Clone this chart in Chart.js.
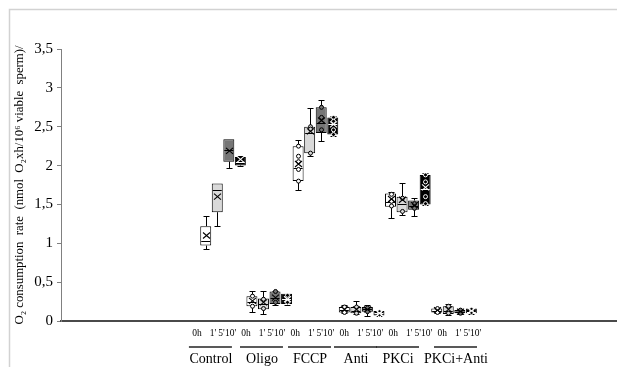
<!DOCTYPE html>
<html>
<head>
<meta charset="utf-8">
<script src="https://cdn.jsdelivr.net/npm/chart.js@4/dist/chart.umd.min.js"></script>
<style>
  html, body { margin: 0; padding: 0; background: #fff; }
  canvas { display: block; }
</style>
</head>
<body>
<canvas id="c" width="617" height="367"></canvas>
<script>
// Treatments and sampling times (each treatment has one box per time)
const groups = ['Control', 'Oligo', 'FCCP', 'Anti', 'PKCi', 'PKCi+Anti'];
const times = ['0h', "1'", "5'", "10'"];
const timeColors = ['#ffffff', '#d9d9d9', '#767676', '#000000'];

// Box statistics, treatment by treatment, 0h / 1' / 5' / 10' within each
const whiskerLow  = [0.93, 1.22, 1.97, 1.99,  0.11, 0.09, 0.21, 0.21,  1.69, 2.12, 2.31, 2.38,  0.10, 0.09, 0.07, 0.06,  1.33, 1.37, 1.35, 1.49,  0.10, 0.08, 0.09, 0.09];
const q1          = [0.97, 1.40, 2.05, 2.00,  0.19, 0.15, 0.22, 0.22,  1.80, 2.16, 2.42, 2.40,  0.11, 0.10, 0.12, 0.07,  1.47, 1.40, 1.43, 1.50,  0.11, 0.09, 0.10, 0.10];
const median      = [1.03, 1.69, 2.20, 2.05,  0.25, 0.22, 0.30, 0.28,  1.97, 2.42, 2.55, 2.53,  0.14, 0.13, 0.15, 0.10,  1.53, 1.50, 1.48, 1.70,  0.13, 0.13, 0.12, 0.12];
const q3          = [1.22, 1.77, 2.34, 2.11,  0.32, 0.29, 0.38, 0.35,  2.25, 2.50, 2.75, 2.62,  0.18, 0.18, 0.18, 0.13,  1.64, 1.60, 1.55, 1.88,  0.16, 0.19, 0.14, 0.16];
const whiskerHigh = [1.35, 1.77, 2.34, 2.12,  0.38, 0.38, 0.39, 0.35,  2.33, 2.74, 2.85, 2.64,  0.20, 0.26, 0.21, 0.13,  1.66, 1.78, 1.58, 1.91,  0.17, 0.22, 0.15, 0.16];
const mean        = [1.10, 1.60, 2.19, 2.08,  0.26, 0.24, 0.30, 0.28,  2.02, 2.44, 2.58, 2.53,  0.15, 0.15, 0.15, 0.10,  1.57, 1.56, 1.49, 1.72,  0.14, 0.15, 0.12, 0.13];
// Individual measurements shown inside the boxes
const innerPoints = [
  [], [], [], [],
  [0.32, 0.19], [0.16, 0.28], [0.38, 0.24], [0.33, 0.24],
  [2.25, 2.12, 2.05, 1.95, 1.80], [2.50, 2.47, 2.16], [2.75, 2.62, 2.46], [2.62, 2.57, 2.46, 2.40],
  [0.18, 0.11], [0.18, 0.10], [0.17, 0.12], [0.12, 0.08],
  [1.63, 1.54, 1.48], [1.58, 1.41], [1.51, 1.45], [1.88, 1.79, 1.60, 1.51],
  [0.16, 0.11], [0.19, 0.10], [0.14, 0.10], [0.15, 0.11]
];

const yTicks = [0, 0.5, 1, 1.5, 2, 2.5, 3, 3.5];
const yTitle = 'O\u2082 consumption  rate  (nmol  O\u2082xh/10\u2076 viable  sperm)/';

const boxData = q1.map((v, i) => ({ x: i, y: [v, q3[i]] }));

const serif = '"Liberation Serif", "Times New Roman", serif';

function crisp(v) { return Math.round(v) + 0.5; }

const boxPlot = {
  id: 'boxPlot',
  beforeDraw(chart) {
    const { ctx, width, height } = chart;
    ctx.save();
    ctx.fillStyle = '#ffffff';
    ctx.fillRect(0, 0, width, height);
    // light outer frame
    ctx.strokeStyle = '#d2d2d2';
    ctx.lineWidth = 1.5;
    ctx.beginPath();
    ctx.moveTo(9.5, height);
    ctx.lineTo(9.5, 9.5);
    ctx.lineTo(width, 9.5);
    ctx.stroke();
    ctx.restore();
  },
  afterDatasetsDraw(chart) {
    const { ctx } = chart;
    const ys = chart.scales.y;
    const meta = chart.getDatasetMeta(0);
    ctx.save();
    meta.data.forEach((bar, i) => {
      const t = i % times.length;
      const ink = t === 3 ? '#ffffff' : '#000000';
      const cx = crisp(bar.x);
      const half = bar.width / 2;
      const py = v => ys.getPixelForValue(v);

      // whiskers with end caps
      ctx.strokeStyle = '#000';
      ctx.lineWidth = 1;
      const whisk = (from, to) => {
        const a = py(from), b = crisp(py(to));
        ctx.beginPath();
        ctx.moveTo(cx, a);
        ctx.lineTo(cx, b);
        ctx.moveTo(cx - 3, b);
        ctx.lineTo(cx + 3, b);
        ctx.stroke();
      };
      if (whiskerHigh[i] > q3[i] + 0.005) whisk(q3[i], whiskerHigh[i]);
      if (whiskerLow[i] < q1[i] - 0.005) whisk(q1[i], whiskerLow[i]);

      // median
      ctx.strokeStyle = ink;
      const ym = crisp(py(median[i]));
      ctx.beginPath();
      ctx.moveTo(bar.x - half + 1, ym);
      ctx.lineTo(bar.x + half - 1, ym);
      ctx.stroke();

      // individual points
      innerPoints[i].forEach(v => {
        ctx.beginPath();
        ctx.arc(cx, py(v), 2, 0, Math.PI * 2);
        ctx.fillStyle = timeColors[t];
        ctx.fill();
        ctx.strokeStyle = ink;
        ctx.stroke();
      });

      // mean marker
      const yMean = py(mean[i]);
      const sx = 3.5, sy = 3;
      ctx.strokeStyle = ink;
      ctx.lineWidth = 1.1;
      ctx.beginPath();
      ctx.moveTo(cx - sx, yMean - sy);
      ctx.lineTo(cx + sx, yMean + sy);
      ctx.moveTo(cx + sx, yMean - sy);
      ctx.lineTo(cx - sx, yMean + sy);
      ctx.stroke();
    });
    ctx.restore();
  },
  afterDraw(chart) {
    const { ctx } = chart;
    const xs = chart.scales.x;
    // time captions sit on an even pitch; treatment names are placed individually
    const timeOffsets = [-15, 1, 9.5, 18.5];
    const nameAnchors = [0.45, 4.87, 9.03, 13.01, 16.65, 21.67];
    ctx.save();
    ctx.fillStyle = '#000';
    ctx.textBaseline = 'middle';
    ctx.textAlign = 'center';
    groups.forEach((g, gi) => {
      const cx = xs.getPixelForValue(gi * 4.245 + 0.55);
      ctx.font = '9.5px ' + serif;
      times.forEach((t, ti) => {
        ctx.fillText(t, cx + timeOffsets[ti], 333);
      });
      const nx = xs.getPixelForValue(nameAnchors[gi]);
      ctx.strokeStyle = '#222';
      ctx.lineWidth = 1.3;
      ctx.beginPath();
      ctx.moveTo(nx - 22, 347);
      ctx.lineTo(nx + 21, 347);
      ctx.stroke();
      ctx.font = '14px ' + serif;
      ctx.fillText(g, nx, 359);
    });
    ctx.restore();
  }
};

new Chart(document.getElementById('c'), {
  type: 'bar',
  data: {
    datasets: [{
      data: boxData,
      backgroundColor: ctx => timeColors[ctx.dataIndex % times.length],
      borderColor: '#000',
      borderWidth: 1,
      borderSkipped: false,
      barPercentage: 0.95,
      categoryPercentage: 1
    }]
  },
  options: {
    responsive: false,
    animation: false,
    events: [],
    layout: { padding: { left: 12, top: 49, right: 0, bottom: 0 } },
    plugins: { legend: { display: false }, tooltip: { enabled: false } },
    scales: {
      x: {
        type: 'linear',
        min: -12.53,
        max: 35.61,
        offset: false,
        grid: { display: false },
        ticks: { display: false },
        border: { display: true, color: '#4a4a4a', width: 2 },
        afterFit: s => { s.height = 46; }
      },
      y: {
        min: 0,
        max: 3.5,
        afterBuildTicks: s => { s.ticks = yTicks.map(v => ({ value: v })); },
        ticks: {
          color: '#000',
          font: { family: serif, size: 15 },
          padding: 4,
          callback: v => String(v).replace('.', ',')
        },
        grid: { display: true, drawOnChartArea: false, drawTicks: true, tickLength: 4, color: '#808080' },
        border: { display: true, color: '#808080', width: 1 },
        title: {
          display: true,
          text: yTitle,
          color: '#000',
          font: { family: serif, size: 12.8 },
          padding: { top: 0, bottom: 0 }
        },
        afterFit: s => { s.width = 49; }
      }
    }
  },
  plugins: [boxPlot]
});
</script>
</body>
</html>
